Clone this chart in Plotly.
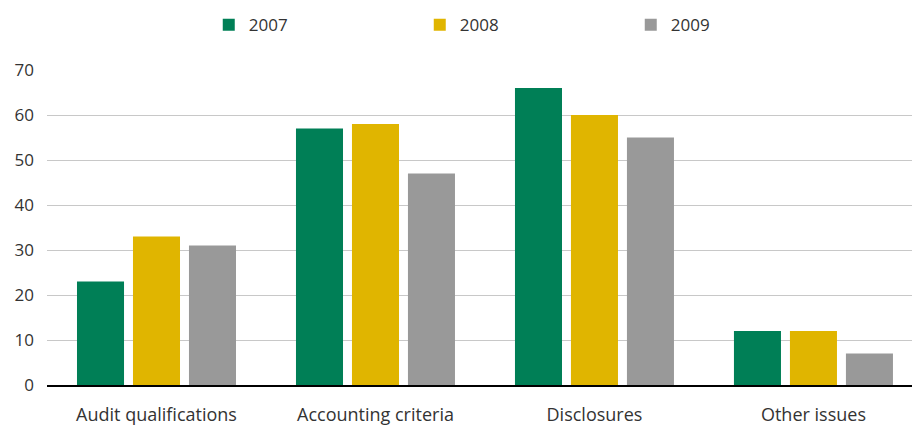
import plotly.graph_objects as go

categories = ["Audit qualifications", "Accounting criteria", "Disclosures", "Other issues"]
years = ["2007", "2008", "2009"]
values_2007 = [23, 57, 66, 12]
values_2008 = [33, 58, 60, 12]
values_2009 = [31, 47, 55, 7]
y_ticks = [0, 10, 20, 30, 40, 50, 60, 70]

colors = ["#007f56", "#e0b500", "#999999"]
series = [values_2007, values_2008, values_2009]

fig = go.Figure()
for name, vals, col in zip(years, series, colors):
    fig.add_trace(go.Bar(x=categories, y=vals, name=name, marker=dict(color=col, line=dict(width=0))))

font_family = "Open Sans, Noto Sans, sans-serif"
fig.update_layout(
    width=912, height=425,
    margin=dict(l=47, r=0, t=70, b=40, autoexpand=False),
    paper_bgcolor="white", plot_bgcolor="white",
    barmode="group", bargap=0.233, bargroupgap=0.16,
    font=dict(family=font_family, size=17, color="#333333"),
    showlegend=True,
    legend=dict(orientation="h", x=0.187, xanchor="left", y=1.142, yanchor="middle",
                entrywidth=166, entrywidthmode="pixels", font=dict(size=17, color="#333333"),
                itemclick=False, itemdoubleclick=False, traceorder="normal"),
)
fig.update_xaxes(range=[-0.5, 3.45], showgrid=False, showline=True, linecolor="#000000", linewidth=1.5,
                 ticks="", ticklabelstandoff=13, tickfont=dict(size=18, color="#333333"))
fig.update_yaxes(range=[0, 70], tickvals=y_ticks, showgrid=True, gridcolor="#c8c8c8", gridwidth=1,
                 zeroline=False, showline=False, ticks="", ticklabelstandoff=12,
                 tickfont=dict(size=17, color="#333333"))

fig.write_html("out.html")
